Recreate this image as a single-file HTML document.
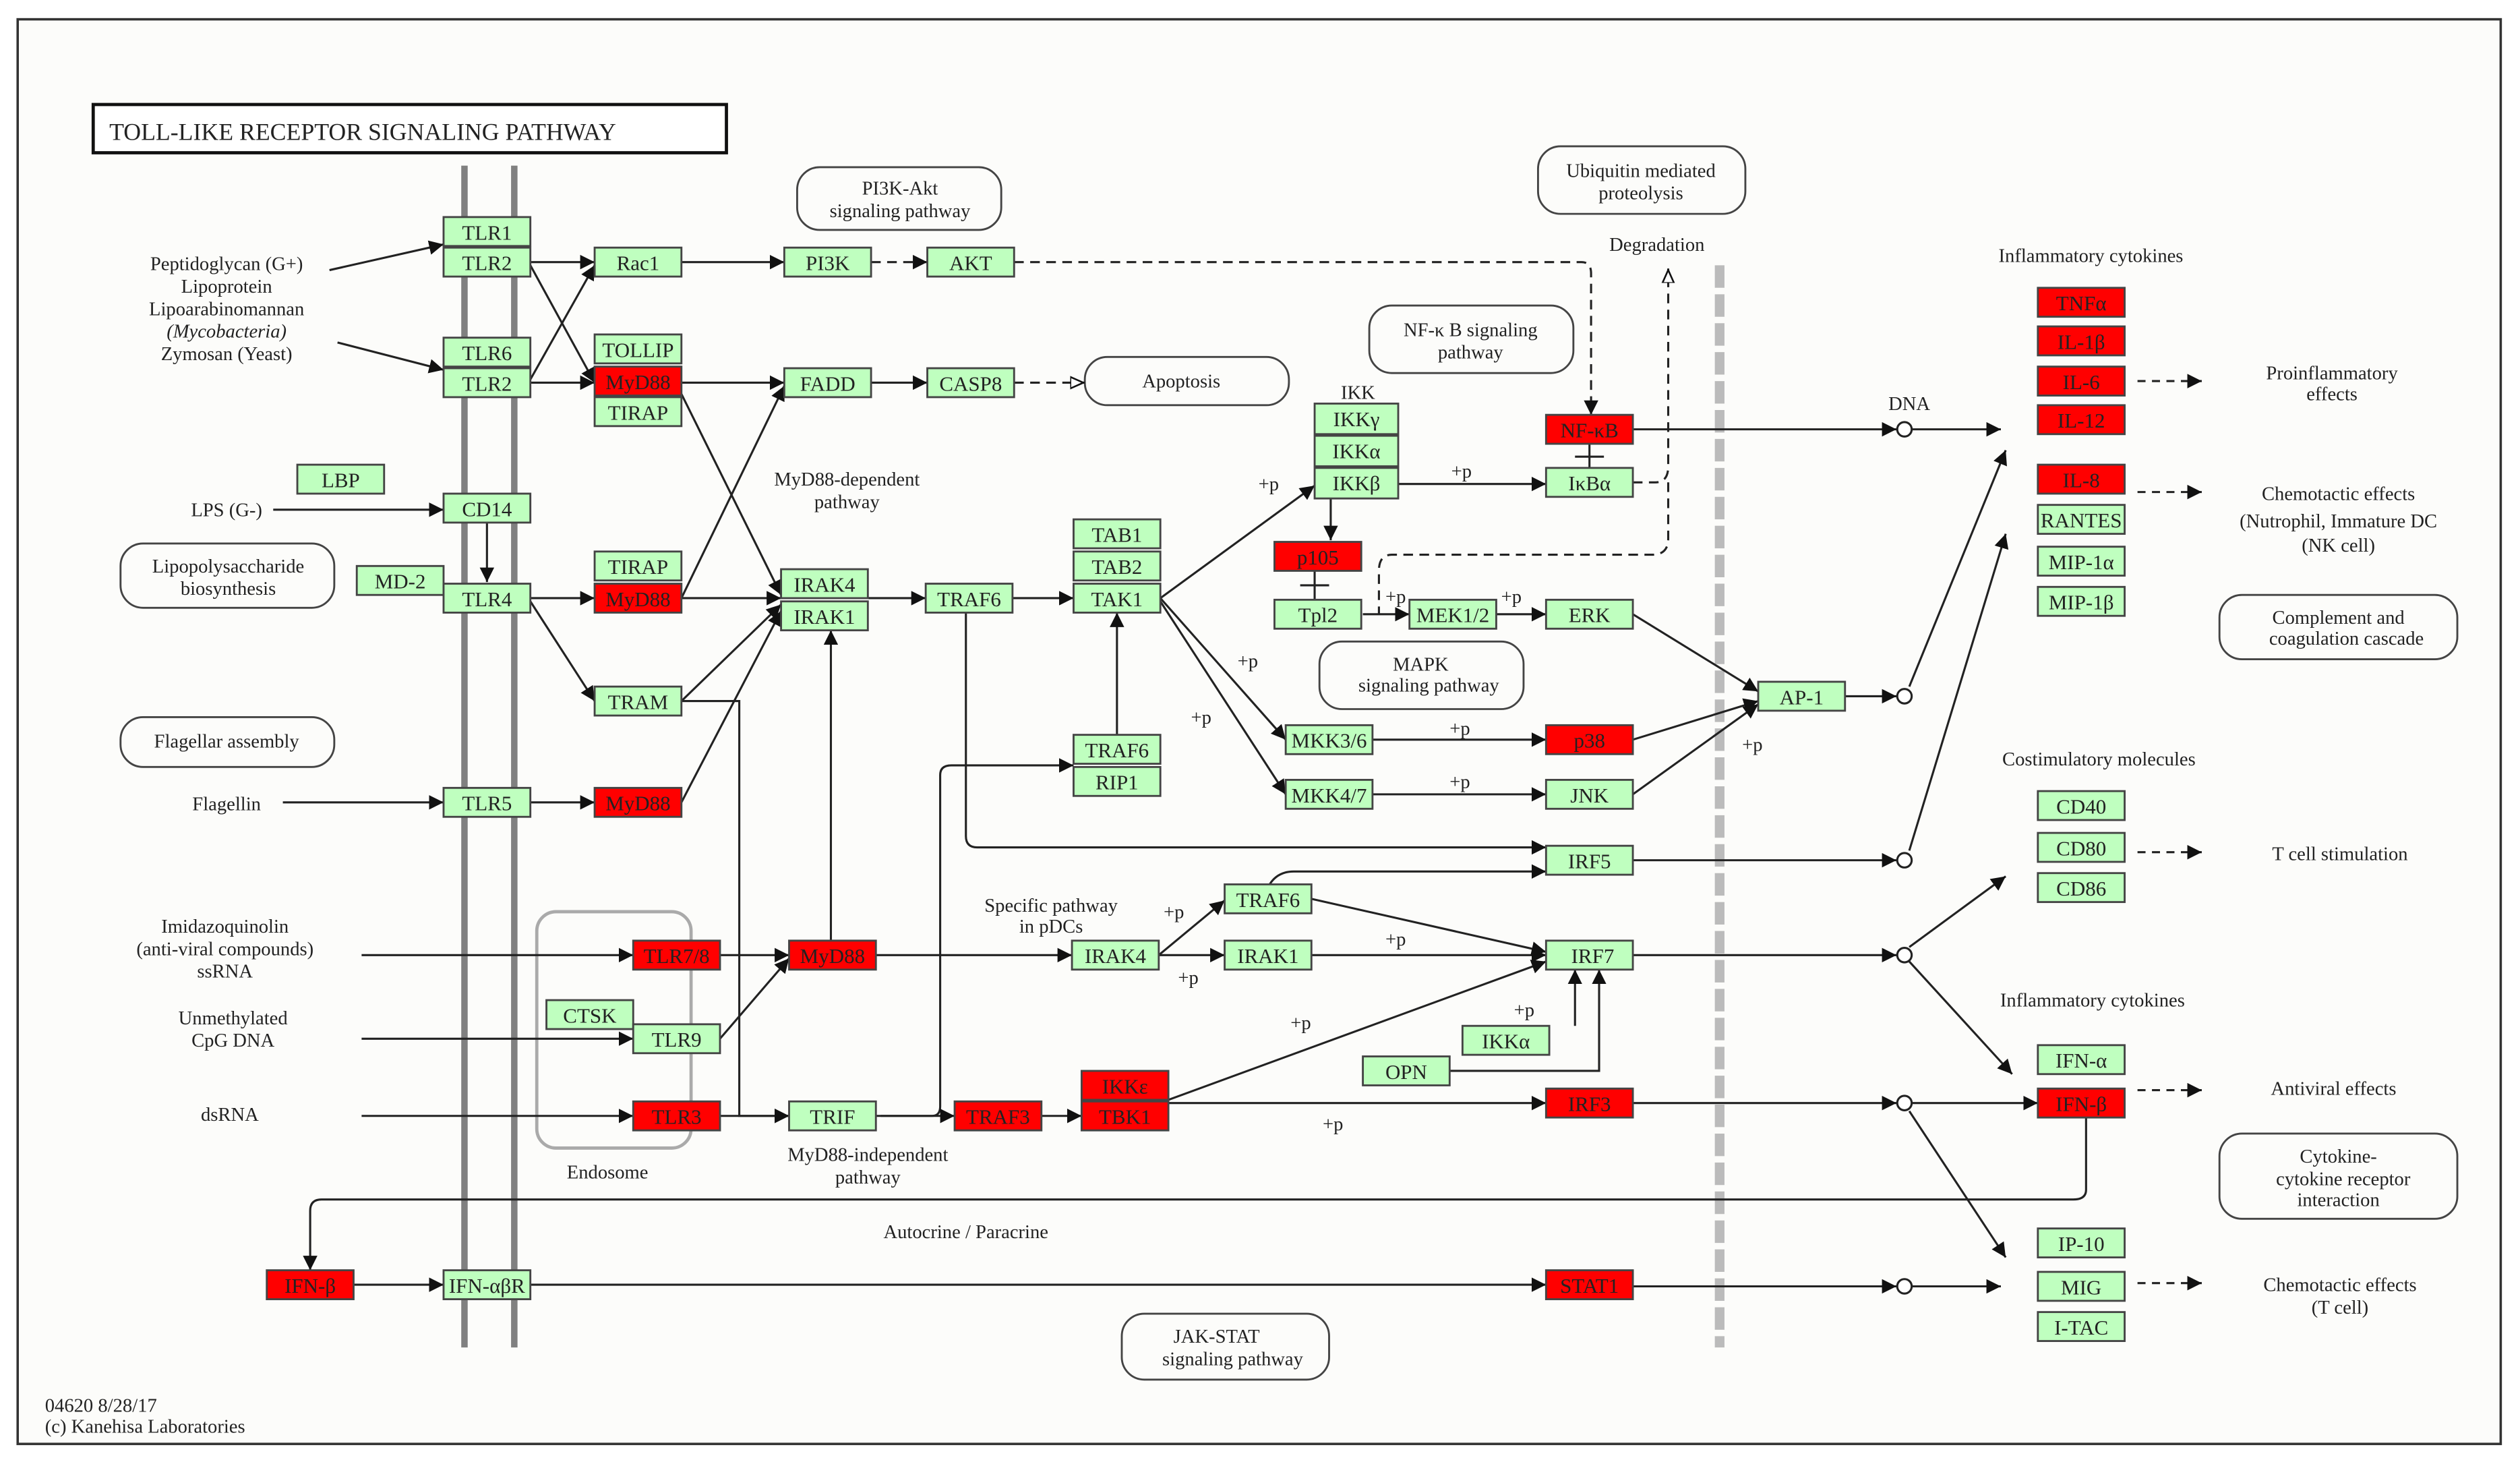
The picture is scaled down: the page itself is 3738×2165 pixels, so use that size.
<!DOCTYPE html>
<html><head><meta charset="utf-8"><style>
html,body{margin:0;padding:0;background:#fff;}
svg{display:block;}
text{font-family:"Liberation Serif",serif;fill:#222;}
.n text{font-size:13px;text-anchor:middle;}
</style></head><body>
<svg width="3738" height="2165" viewBox="0 0 1568 908" preserveAspectRatio="none" xmlns="http://www.w3.org/2000/svg">
<defs>
<marker id="a" viewBox="0 0 10 10" refX="10" refY="5" markerWidth="9" markerHeight="9" markerUnits="userSpaceOnUse" orient="auto"><path d="M0,0L10,5L0,10z" fill="#111"/></marker>
<marker id="o" viewBox="0 0 10 10" refX="10" refY="5" markerWidth="9" markerHeight="9" markerUnits="userSpaceOnUse" orient="auto"><path d="M0,1L9,5L0,9z" fill="#fff" stroke="#111" stroke-width="1.2"/></marker>
</defs>
<rect x="0" y="0" width="1568" height="908" fill="#fff"/>
<rect x="11" y="12" width="1545" height="886" fill="#fcfcfa" stroke="#333" stroke-width="1.5"/>
<rect x="58" y="65" width="394" height="30" fill="#fff" stroke="#111" stroke-width="2"/>
<text x="68" y="87" font-size="15">TOLL-LIKE  RECEPTOR  SIGNALING  PATHWAY</text>
<!-- membranes -->
<g stroke="#808080" stroke-width="4"><line x1="289" y1="103" x2="289" y2="838"/><line x1="320" y1="103" x2="320" y2="838"/></g>
<line x1="1070" y1="165" x2="1070" y2="838" stroke="#bbb" stroke-width="6" stroke-dasharray="14,4"/>
<!-- rounded boxes -->
<g fill="none" stroke="#444" stroke-width="1.2">
<rect x="496" y="104" width="127" height="39" rx="14"/>
<rect x="957" y="91" width="129" height="42" rx="14"/>
<rect x="852" y="190" width="127" height="42" rx="14"/>
<rect x="675" y="222" width="127" height="30" rx="14"/>
<rect x="75" y="338" width="133" height="40" rx="14"/>
<rect x="75" y="446" width="133" height="31" rx="14"/>
<rect x="821" y="399" width="127" height="42" rx="14"/>
<rect x="1381" y="370" width="148" height="40" rx="14"/>
<rect x="1381" y="705" width="148" height="53" rx="14"/>
<rect x="698" y="817" width="129" height="41" rx="14"/>
<rect x="334" y="567" width="96" height="147" rx="12" stroke="#aaa" stroke-width="2"/>
</g>
<g font-size="12" text-anchor="middle">
<text x="560" y="121">PI3K-Akt</text><text x="560" y="135">signaling pathway</text>
<text x="1021" y="110">Ubiquitin mediated</text><text x="1021" y="124">proteolysis</text>
<text x="915" y="209">NF-κ B signaling</text><text x="915" y="223">pathway</text>
<text x="735" y="241">Apoptosis</text>
<text x="142" y="356">Lipopolysaccharide</text><text x="142" y="370">biosynthesis</text>
<text x="141" y="465">Flagellar assembly</text>
<text x="884" y="417">MAPK</text><text x="889" y="430">signaling pathway</text>
<text x="1455" y="388">Complement and</text><text x="1460" y="401">coagulation cascade</text>
<text x="1455" y="723">Cytokine-</text><text x="1458" y="737">cytokine receptor</text><text x="1455" y="750">interaction</text>
<text x="757" y="835">JAK-STAT</text><text x="767" y="849">signaling pathway</text>
<text x="378" y="733">Endosome</text>
<text x="141" y="168">Peptidoglycan (G+)</text><text x="141" y="182">Lipoprotein</text><text x="141" y="196">Lipoarabinomannan</text><text x="141" y="210" font-style="italic">(Mycobacteria)</text><text x="141" y="224">Zymosan (Yeast)</text>
<text x="141" y="321">LPS (G-)</text>
<text x="141" y="504">Flagellin</text>
<text x="140" y="580">Imidazoquinolin</text><text x="140" y="594">(anti-viral compounds)</text><text x="140" y="608">ssRNA</text>
<text x="145" y="637">Unmethylated</text><text x="145" y="651">CpG DNA</text>
<text x="143" y="697">dsRNA</text>
<text x="527" y="302">MyD88-dependent</text><text x="527" y="316">pathway</text>
<text x="540" y="722">MyD88-independent</text><text x="540" y="736">pathway</text>
<text x="654" y="567">Specific pathway</text><text x="654" y="580">in pDCs</text>
<text x="601" y="770">Autocrine / Paracrine</text>
<text x="845" y="248">IKK</text>
<text x="1031" y="156">Degradation</text>
<text x="1188" y="255">DNA</text>
<text x="1301" y="163">Inflammatory cytokines</text>
<text x="1451" y="236">Proinflammatory</text><text x="1451" y="249">effects</text>
<text x="1455" y="311">Chemotactic effects</text><text x="1455" y="328">(Nutrophil, Immature DC</text><text x="1455" y="343">(NK cell)</text>
<text x="1306" y="476">Costimulatory molecules</text>
<text x="1456" y="535">T cell stimulation</text>
<text x="1302" y="626">Inflammatory cytokines</text>
<text x="1452" y="681">Antiviral effects</text>
<text x="1456" y="803">Chemotactic effects</text><text x="1456" y="817">(T cell)</text>
</g>
<g font-size="12">
<text x="783" y="305">+p</text><text x="903" y="297">+p</text><text x="770" y="415">+p</text><text x="741" y="450">+p</text>
<text x="862" y="375">+p</text><text x="934" y="375">+p</text><text x="902" y="457">+p</text><text x="902" y="490">+p</text>
<text x="1084" y="467">+p</text><text x="724" y="571">+p</text><text x="733" y="612">+p</text><text x="862" y="588">+p</text>
<text x="803" y="640">+p</text><text x="942" y="632">+p</text><text x="823" y="703">+p</text>
<text x="28" y="878">04620 8/28/17</text><text x="28" y="891">(c) Kanehisa Laboratories</text>
</g>
<!-- edges -->
<g stroke="#222" stroke-width="1.3" fill="none" marker-end="url(#a)">
<line x1="205" y1="168" x2="276" y2="152"/><line x1="210" y1="213" x2="276" y2="230"/>
<line x1="330" y1="163" x2="370" y2="163"/><line x1="330" y1="165" x2="370" y2="238"/>
<line x1="330" y1="238" x2="370" y2="238"/><line x1="330" y1="236" x2="370" y2="165"/>
<line x1="424" y1="163" x2="488" y2="163"/>
<line x1="424" y1="238" x2="488" y2="238"/><line x1="542" y1="238" x2="577" y2="238"/>
<line x1="424" y1="245" x2="486" y2="370"/><line x1="424" y1="372" x2="488" y2="240"/>
<line x1="170" y1="317" x2="276" y2="317"/><line x1="303" y1="325" x2="303" y2="362"/>
<line x1="330" y1="372" x2="370" y2="372"/><line x1="330" y1="374" x2="370" y2="436"/>
<line x1="424" y1="372" x2="486" y2="372"/><line x1="540" y1="372" x2="576" y2="372"/><line x1="630" y1="372" x2="668" y2="372"/>
<line x1="424" y1="499" x2="486" y2="380"/>
<line x1="424" y1="436" x2="486" y2="376"/>
<path d="M424,436H460V694H491"/>
<line x1="176" y1="499" x2="276" y2="499"/><line x1="330" y1="499" x2="370" y2="499"/>
<line x1="722" y1="372" x2="818" y2="302"/><line x1="722" y1="372" x2="800" y2="460"/><line x1="722" y1="374" x2="800" y2="494"/>
<line x1="870" y1="301" x2="962" y2="301"/><line x1="828" y1="310" x2="828" y2="336"/>
<line x1="848" y1="382" x2="877" y2="382"/><line x1="931" y1="382" x2="962" y2="382"/>
<line x1="1016" y1="267" x2="1180" y2="267"/><line x1="1190" y1="267" x2="1245" y2="267"/>
<line x1="1016" y1="382" x2="1094" y2="430"/><line x1="1016" y1="460" x2="1094" y2="436"/><line x1="1016" y1="494" x2="1094" y2="438"/>
<line x1="1148" y1="433" x2="1180" y2="433"/><line x1="1188" y1="427" x2="1248" y2="280"/>
<line x1="854" y1="460" x2="962" y2="460"/><line x1="854" y1="494" x2="962" y2="494"/>
<line x1="695" y1="457" x2="695" y2="381"/>
<path d="M601,381V520Q601,527 608,527H962"/>
<line x1="1016" y1="535" x2="1180" y2="535"/><line x1="1188" y1="529" x2="1248" y2="332"/>
<path d="M548,694H580Q585,694 585,688V482Q585,476 592,476H668"/>
<line x1="225" y1="594" x2="394" y2="594"/><line x1="448" y1="594" x2="491" y2="594"/>
<line x1="517" y1="585" x2="517" y2="392"/><line x1="545" y1="594" x2="667" y2="594"/>
<line x1="721" y1="594" x2="762" y2="560"/><line x1="721" y1="594" x2="762" y2="594"/>
<line x1="816" y1="594" x2="962" y2="594"/><line x1="816" y1="559" x2="962" y2="592"/>
<path d="M790,550Q795,542 805,542H962"/>
<line x1="1016" y1="594" x2="1180" y2="594"/><line x1="1188" y1="589" x2="1248" y2="545"/><line x1="1188" y1="598" x2="1252" y2="668"/>
<line x1="225" y1="646" x2="394" y2="646"/><line x1="448" y1="646" x2="491" y2="596"/>
<line x1="225" y1="694" x2="394" y2="694"/><line x1="448" y1="694" x2="491" y2="694"/>
<line x1="545" y1="694" x2="594" y2="694"/><line x1="648" y1="694" x2="673" y2="694"/>
<line x1="727" y1="686" x2="962" y2="686"/><line x1="727" y1="684" x2="962" y2="598"/>
<line x1="980" y1="638" x2="980" y2="603"/><path d="M902,666H995V603"/>
<line x1="1016" y1="686" x2="1180" y2="686"/><line x1="1190" y1="686" x2="1268" y2="686"/><line x1="1188" y1="691" x2="1248" y2="782"/>
<path d="M1298,695V740Q1298,746 1290,746H200Q193,746 193,753V790"/>
<line x1="220" y1="799" x2="276" y2="799"/><line x1="330" y1="799" x2="962" y2="799"/>
<line x1="1016" y1="800" x2="1180" y2="800"/><line x1="1190" y1="800" x2="1245" y2="800"/>
</g>
<g stroke="#222" stroke-width="1.3" fill="none" stroke-dasharray="6,4">
<line x1="542" y1="163" x2="577" y2="163" marker-end="url(#a)"/>
<path d="M631,163H984Q990,163 990,170V258" marker-end="url(#a)"/>
<line x1="631" y1="238" x2="675" y2="238" marker-end="url(#o)"/>
<path d="M1016,300H1030Q1038,300 1038,290V167" marker-end="url(#o)"/>
<path d="M1038,300V335Q1038,345 1028,345H866Q858,345 858,355V382"/>
<g marker-end="url(#a)" stroke-dasharray="5,4"><line x1="1330" y1="237" x2="1370" y2="237"/><line x1="1330" y1="306" x2="1370" y2="306"/><line x1="1330" y1="530" x2="1370" y2="530"/><line x1="1330" y1="678" x2="1370" y2="678"/><line x1="1330" y1="798" x2="1370" y2="798"/></g>
</g>
<g stroke="#222" stroke-width="1.3">
<line x1="989" y1="276" x2="989" y2="291"/><line x1="980" y1="284" x2="998" y2="284"/>
<line x1="818" y1="355" x2="818" y2="373"/><line x1="809" y1="364" x2="827" y2="364"/>
</g>
<g fill="#fff" stroke="#222" stroke-width="1.3">
<circle cx="1185" cy="267" r="4.5"/><circle cx="1185" cy="433" r="4.5"/><circle cx="1185" cy="535" r="4.5"/><circle cx="1185" cy="594" r="4.5"/><circle cx="1185" cy="686" r="4.5"/><circle cx="1185" cy="800" r="4.5"/>
</g>
<!-- nodes -->
<g class="n" stroke="#444" stroke-width="1.2">
<g fill="#bfffbf">
<rect x="276" y="135" width="54" height="18"/><rect x="276" y="154" width="54" height="18"/><rect x="276" y="210" width="54" height="18"/><rect x="276" y="229" width="54" height="18"/>
<rect x="370" y="154" width="54" height="18"/><rect x="488" y="154" width="54" height="18"/><rect x="577" y="154" width="54" height="18"/>
<rect x="370" y="208" width="54" height="18"/><rect x="370" y="247" width="54" height="18"/>
<rect x="488" y="229" width="54" height="18"/><rect x="577" y="229" width="54" height="18"/>
<rect x="185" y="289" width="54" height="18"/><rect x="276" y="307" width="54" height="18"/><rect x="222" y="352" width="54" height="18"/><rect x="276" y="363" width="54" height="18"/>
<rect x="370" y="343" width="54" height="18"/>
<rect x="486" y="354" width="54" height="18"/><rect x="486" y="374" width="54" height="18"/><rect x="576" y="363" width="54" height="18"/>
<rect x="668" y="323" width="54" height="18"/><rect x="668" y="343" width="54" height="18"/><rect x="668" y="363" width="54" height="18"/>
<rect x="370" y="427" width="54" height="18"/><rect x="276" y="490" width="54" height="18"/>
<rect x="668" y="457" width="54" height="18"/><rect x="668" y="477" width="54" height="18"/>
<rect x="818" y="251" width="52" height="19"/><rect x="818" y="271" width="52" height="19"/><rect x="818" y="291" width="52" height="19"/>
<rect x="962" y="291" width="54" height="18"/>
<rect x="793" y="373" width="54" height="18"/><rect x="877" y="373" width="54" height="18"/><rect x="962" y="373" width="54" height="18"/>
<rect x="800" y="451" width="54" height="18"/><rect x="800" y="485" width="54" height="18"/><rect x="962" y="485" width="54" height="18"/>
<rect x="1094" y="424" width="54" height="18"/><rect x="962" y="526" width="54" height="18"/>
<rect x="762" y="550" width="54" height="18"/><rect x="667" y="585" width="54" height="18"/><rect x="762" y="585" width="54" height="18"/><rect x="962" y="585" width="54" height="18"/>
<rect x="340" y="622" width="54" height="18"/><rect x="394" y="637" width="54" height="18"/>
<rect x="848" y="657" width="54" height="18"/><rect x="910" y="638" width="54" height="18"/>
<rect x="491" y="685" width="54" height="18"/><rect x="276" y="790" width="54" height="18"/>
<rect x="1268" y="314" width="54" height="18"/><rect x="1268" y="340" width="54" height="18"/><rect x="1268" y="365" width="54" height="18"/>
<rect x="1268" y="492" width="54" height="18"/><rect x="1268" y="518" width="54" height="18"/><rect x="1268" y="543" width="54" height="18"/>
<rect x="1268" y="650" width="54" height="18"/>
<rect x="1268" y="764" width="54" height="18"/><rect x="1268" y="791" width="54" height="18"/><rect x="1268" y="816" width="54" height="18"/>
</g>
<g fill="#ff0000">
<rect x="370" y="228" width="54" height="18"/><rect x="370" y="363" width="54" height="18"/><rect x="370" y="490" width="54" height="18"/>
<rect x="962" y="258" width="54" height="18"/><rect x="793" y="337" width="54" height="18"/><rect x="962" y="451" width="54" height="18"/>
<rect x="394" y="585" width="54" height="18"/><rect x="491" y="585" width="54" height="18"/>
<rect x="394" y="685" width="54" height="18"/><rect x="594" y="685" width="54" height="18"/>
<rect x="673" y="666" width="54" height="18"/><rect x="673" y="685" width="54" height="18"/>
<rect x="962" y="677" width="54" height="18"/><rect x="166" y="790" width="54" height="18"/><rect x="962" y="790" width="54" height="18"/>
<rect x="1268" y="179" width="54" height="18"/><rect x="1268" y="203" width="54" height="18"/><rect x="1268" y="228" width="54" height="18"/><rect x="1268" y="252" width="54" height="18"/><rect x="1268" y="289" width="54" height="18"/><rect x="1268" y="677" width="54" height="18"/>
</g>
</g>
<g class="n" font-size="13" text-anchor="middle">
<text x="303" y="149">TLR1</text><text x="303" y="168">TLR2</text><text x="303" y="224">TLR6</text><text x="303" y="243">TLR2</text>
<text x="397" y="168">Rac1</text><text x="515" y="168">PI3K</text><text x="604" y="168">AKT</text>
<text x="397" y="222">TOLLIP</text><text x="397" y="242">MyD88</text><text x="397" y="261">TIRAP</text>
<text x="515" y="243">FADD</text><text x="604" y="243">CASP8</text>
<text x="212" y="303">LBP</text><text x="303" y="321">CD14</text><text x="249" y="366">MD-2</text><text x="303" y="377">TLR4</text>
<text x="397" y="357">TIRAP</text><text x="397" y="377">MyD88</text>
<text x="513" y="368">IRAK4</text><text x="513" y="388">IRAK1</text><text x="603" y="377">TRAF6</text>
<text x="695" y="337">TAB1</text><text x="695" y="357">TAB2</text><text x="695" y="377">TAK1</text>
<text x="397" y="441">TRAM</text><text x="303" y="504">TLR5</text><text x="397" y="504">MyD88</text>
<text x="695" y="471">TRAF6</text><text x="695" y="491">RIP1</text>
<text x="844" y="265">IKKγ</text><text x="844" y="285">IKKα</text><text x="844" y="305">IKKβ</text>
<text x="989" y="272">NF-κB</text><text x="989" y="305">IκBα</text>
<text x="820" y="351">p105</text><text x="820" y="387">Tpl2</text><text x="904" y="387">MEK1/2</text><text x="989" y="387">ERK</text>
<text x="827" y="465">MKK3/6</text><text x="989" y="465">p38</text><text x="827" y="499">MKK4/7</text><text x="989" y="499">JNK</text>
<text x="1121" y="438">AP-1</text><text x="989" y="540">IRF5</text>
<text x="789" y="564">TRAF6</text><text x="694" y="599">IRAK4</text><text x="789" y="599">IRAK1</text><text x="991" y="599">IRF7</text>
<text x="421" y="599">TLR7/8</text><text x="518" y="599">MyD88</text>
<text x="367" y="636">CTSK</text><text x="421" y="651">TLR9</text>
<text x="875" y="671">OPN</text><text x="937" y="652">IKKα</text>
<text x="421" y="699">TLR3</text><text x="518" y="699">TRIF</text><text x="621" y="699">TRAF3</text>
<text x="700" y="680">IKKε</text><text x="700" y="699">TBK1</text><text x="989" y="691">IRF3</text>
<text x="193" y="804">IFN-β</text><text x="303" y="804">IFN-αβR</text><text x="989" y="804">STAT1</text>
<text x="1295" y="193">TNFα</text><text x="1295" y="217">IL-1β</text><text x="1295" y="242">IL-6</text><text x="1295" y="266">IL-12</text><text x="1295" y="303">IL-8</text>
<text x="1295" y="328">RANTES</text><text x="1295" y="354">MIP-1α</text><text x="1295" y="379">MIP-1β</text>
<text x="1295" y="506">CD40</text><text x="1295" y="532">CD80</text><text x="1295" y="557">CD86</text>
<text x="1295" y="664">IFN-α</text><text x="1295" y="691">IFN-β</text>
<text x="1295" y="778">IP-10</text><text x="1295" y="805">MIG</text><text x="1295" y="830">I-TAC</text>
</g>
</svg>
</body></html>
